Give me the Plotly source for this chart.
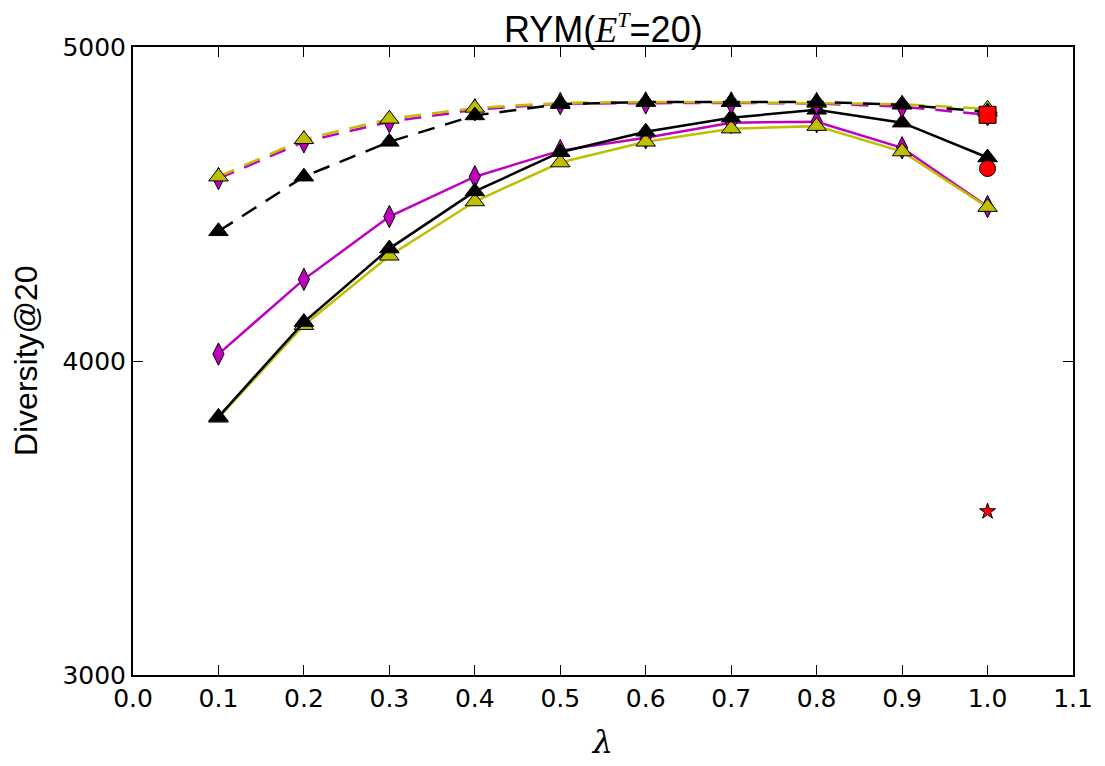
import plotly.graph_objects as go

# lambda values
lam = [0.1, 0.2, 0.3, 0.4, 0.5, 0.6, 0.7, 0.8, 0.9, 1.0]

# solid series
magenta_solid = [4022, 4260, 4460, 4587, 4670, 4711, 4759, 4762, 4679, 4492]
yellow_solid = [3819, 4114, 4335, 4508, 4632, 4698, 4740, 4748, 4667, 4490]
black_solid = [3822, 4124, 4358, 4540, 4665, 4730, 4775, 4800, 4759, 4648]

# dashed series
magenta_dashed = [4581, 4698, 4762, 4800, 4820, 4822, 4822, 4820, 4810, 4784]
yellow_dashed = [4587, 4706, 4771, 4806, 4822, 4825, 4824, 4822, 4818, 4803]
black_dashed = [4413, 4587, 4698, 4782, 4818, 4825, 4825, 4825, 4816, 4794]

# single-point baselines at lambda = 1.0
red_x = [1.0]
red_square = [4784]
red_circle = [4613]
red_star = [3521]

MAG = "#bf00bf"
YEL = "#bfbf00"
DASH = "17px,11px"

fig = go.Figure()


def add_line(y, color, symbol, size, dash):
    fig.add_trace(go.Scatter(
        x=lam, y=y, mode="lines+markers",
        line=dict(color=color, width=2.5, dash=dash),
        marker=dict(symbol=symbol, size=size, color=color,
                    line=dict(color="black", width=1)),
        showlegend=False, cliponaxis=False
    ))


add_line(magenta_solid, MAG, "diamond-tall", 16, "solid")
add_line(yellow_solid, YEL, "triangle-up", 17, "solid")
add_line(black_solid, "black", "triangle-up", 17, "solid")
add_line(magenta_dashed, MAG, "diamond-tall", 16, DASH)
add_line(yellow_dashed, YEL, "triangle-up", 17, DASH)
add_line(black_dashed, "black", "triangle-up", 17, DASH)

for y, sym, sz in [(red_square, "square", 17), (red_circle, "circle", 16),
                   (red_star, "star", 12)]:
    fig.add_trace(go.Scatter(
        x=red_x, y=y, mode="markers",
        marker=dict(symbol=sym, size=sz, color="red",
                    line=dict(color="black", width=1)),
        showlegend=False, cliponaxis=False
    ))

axis_common = dict(
    showline=True, linecolor="black", linewidth=2, mirror="ticks",
    ticks="inside", ticklen=10, tickwidth=1, tickcolor="black",
    showgrid=False, zeroline=False,
    tickfont=dict(family="DejaVu Sans", size=25, color="black"),
)

fig.update_xaxes(range=[0.0, 1.1], tickvals=[i / 10 for i in range(12)],
                 tickformat=".1f",
                 title=dict(text="<i>λ</i>", standoff=19,
                            font=dict(family="DejaVu Serif", size=32, color="black")),
                 **axis_common)
fig.update_yaxes(range=[3000, 5000], tickvals=[3000, 4000, 5000], **axis_common)

# y title and chart title as annotations for tighter placement
fig.add_annotation(text="Diversity@20", xref="paper", yref="paper",
                   x=-0.1137, y=0.5, xanchor="center", yanchor="middle",
                   textangle=-90, showarrow=False,
                   font=dict(family="Liberation Sans", size=32, color="black"))
fig.add_annotation(text="RYM(<span style='font-family:Liberation Serif'><i>E</i>"
                        "<sup><i><span style='font-size:22px'>T</span></i></sup></span>=20)",
                   xref="paper", yref="paper", x=0.5, y=1.0,
                   xanchor="center", yanchor="bottom", yshift=-5,
                   showarrow=False,
                   font=dict(family="Liberation Sans", size=36, color="black"))

# page body adds an 8px offset, so the figure is 8px smaller on each axis
fig.update_layout(
    width=1097, height=758,
    margin=dict(l=125, r=31, t=39, b=89),
    plot_bgcolor="white", paper_bgcolor="white",
)

fig.write_html("out.html")
